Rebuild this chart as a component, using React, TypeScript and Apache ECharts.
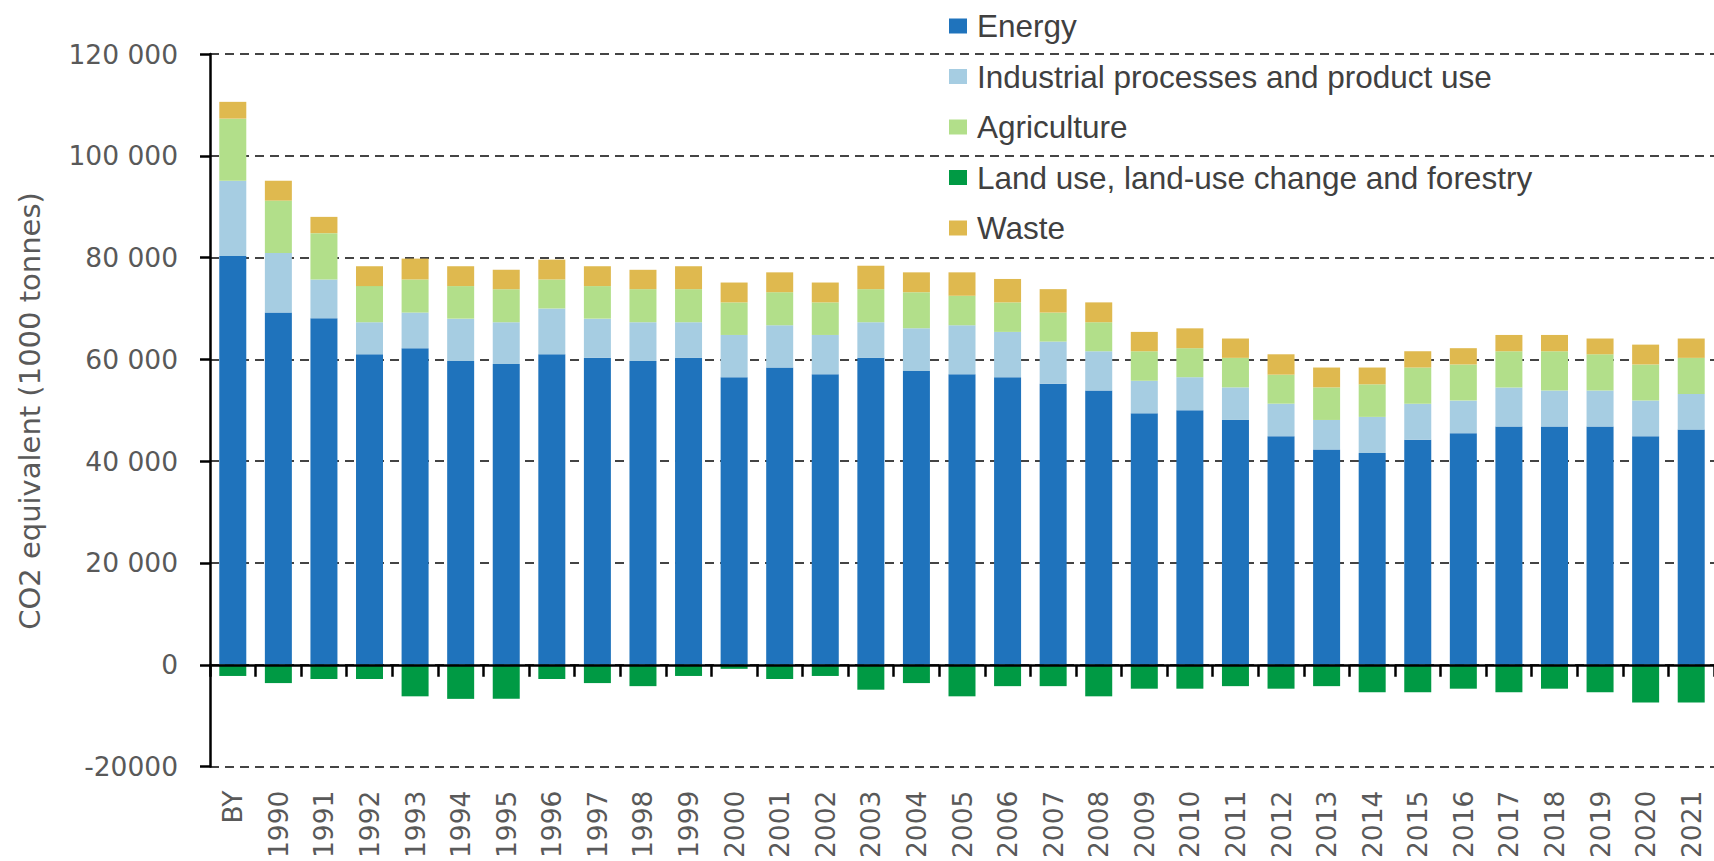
import React, { useEffect, useRef } from "react";
import * as echarts from "echarts";

const categories = ["BY", "1990", "1991", "1992", "1993", "1994", "1995", "1996", "1997", "1998", "1999", "2000", "2001", "2002", "2003", "2004", "2005", "2006", "2007", "2008", "2009", "2010", "2011", "2012", "2013", "2014", "2015", "2016", "2017", "2018", "2019", "2020", "2021"];

const energy = [80300, 69200, 68100, 61000, 62200, 59700, 59100, 61000, 60300, 59700, 60300, 56500, 58400, 57100, 60300, 57700, 57100, 56500, 55200, 53900, 49400, 50000, 48100, 44900, 42300, 41600, 44200, 45500, 46800, 46800, 46800, 44900, 46200];
const industrial = [14800, 11700, 7600, 6300, 7000, 8300, 8200, 9000, 7700, 7600, 7000, 8300, 8300, 7700, 7000, 8400, 9600, 8900, 8300, 7700, 6400, 6500, 6400, 6400, 5800, 7100, 7100, 6400, 7700, 7100, 7100, 7000, 7000];
const agriculture = [12200, 10300, 9100, 7100, 6500, 6400, 6500, 5700, 6400, 6500, 6500, 6400, 6500, 6400, 6500, 7100, 5800, 5800, 5700, 5700, 5800, 5700, 5800, 5700, 6400, 6400, 7100, 7100, 7100, 7700, 7100, 7100, 7100];
const lulucf = [-2200, -3600, -2800, -2800, -6200, -6700, -6700, -2800, -3600, -4200, -2200, -800, -2800, -2200, -4900, -3600, -6200, -4200, -4200, -6200, -4700, -4700, -4200, -4700, -4200, -5400, -5400, -4700, -5400, -4700, -5400, -7400, -7400];
const waste = [3300, 3900, 3200, 3900, 4100, 3900, 3800, 3900, 3900, 3800, 4500, 3900, 3900, 3900, 4600, 3900, 4600, 4600, 4600, 3900, 3800, 3900, 3800, 4000, 3900, 3300, 3200, 3200, 3200, 3200, 3100, 3900, 3800];

const seriesNames = ["Energy", "Industrial processes and product use", "Agriculture", "Land use, land-use change and forestry", "Waste"];
const seriesColors = ["#1f73bc", "#a6cde2", "#b2df8a", "#009a44", "#dfb94f"];

const yTickValues = [-20000, 0, 20000, 40000, 60000, 80000, 100000, 120000];
const yTickLabels = ["-20000", "0", "20 000", "40 000", "60 000", "80 000", "100 000", "120 000"];

const yAxisTitle = "CO2 equivalent (1000 tonnes)";

export default function App() {
  const ref = useRef<HTMLDivElement>(null);

  useEffect(() => {
    if (!ref.current) return;
    const chart = echarts.init(ref.current, null, { renderer: "svg" });
    const allData = [energy, industrial, agriculture, lulucf, waste];
    const axisFont = "DejaVu Sans";
    const option: any = {
      animation: false,
      backgroundColor: "#ffffff",
      grid: { left: 210, top: 54, width: 1515, height: 714.3 },
      legend: {
        orient: "vertical",
        left: 949,
        top: 10,
        padding: 0,
        itemGap: 18.5,
        itemWidth: 18,
        itemHeight: 15,
        icon: "rect",
        data: seriesNames,
        textStyle: {
          fontFamily: "Liberation Sans",
          fontSize: 31.5,
          lineHeight: 31,
          color: "#404040",
          padding: [0, 0, 0, 5],
        },
      },
      xAxis: [
        {
          type: "category",
          data: categories,
          position: "top",
          z: 10,
          axisLine: { show: true, onZero: true, lineStyle: { color: "#000000", width: 2.5 } },
          axisTick: { show: true, inside: true, length: 12, lineStyle: { color: "#000000", width: 2.5 } },
          axisLabel: { show: false },
          splitLine: { show: false },
        },
        {
          type: "category",
          data: categories,
          position: "bottom",
          axisLine: { show: false, onZero: false },
          axisTick: { show: false },
          axisLabel: {
            show: true,
            rotate: 90,
            interval: 0,
            margin: 24,
            fontFamily: axisFont,
            fontSize: 26.5,
            color: "#595959",
          },
          splitLine: { show: false },
        },
      ],
      yAxis: {
        type: "value",
        min: yTickValues[0],
        max: yTickValues[yTickValues.length - 1],
        interval: 20000,
        axisLine: { show: true, lineStyle: { color: "#000000", width: 2.5 } },
        axisTick: { show: true, length: 10, lineStyle: { color: "#000000", width: 2.5 } },
        axisLabel: {
          margin: 32,
          fontFamily: axisFont,
          fontSize: 26.5,
          color: "#595959",
          formatter: (v: number) => {
            const i = yTickValues.indexOf(v);
            return i >= 0 ? yTickLabels[i] : "";
          },
        },
        splitLine: { show: true, lineStyle: { type: [9, 6], color: "#444444", width: 2 } },
      },
      graphic: [
        {
          type: "text",
          x: 29.5,
          y: 411,
          rotation: Math.PI / 2,
          style: {
            text: yAxisTitle,
            fontFamily: axisFont,
            fontSize: 29,
            fill: "#595959",
            align: "center",
            verticalAlign: "middle",
          },
        },
      ],
      series: seriesNames.map((name, i) => ({
        name,
        type: "bar",
        stack: "total",
        xAxisIndex: 0,
        barWidth: 27,
        itemStyle: { color: seriesColors[i] },
        data: allData[i],
      })),
    };
    chart.setOption(option);
    return () => chart.dispose();
  }, []);

  return (
    <div
      ref={ref}
      style={{ position: "absolute", left: 0, top: 0, width: 1714, height: 861, background: "#fff" }}
    />
  );
}
